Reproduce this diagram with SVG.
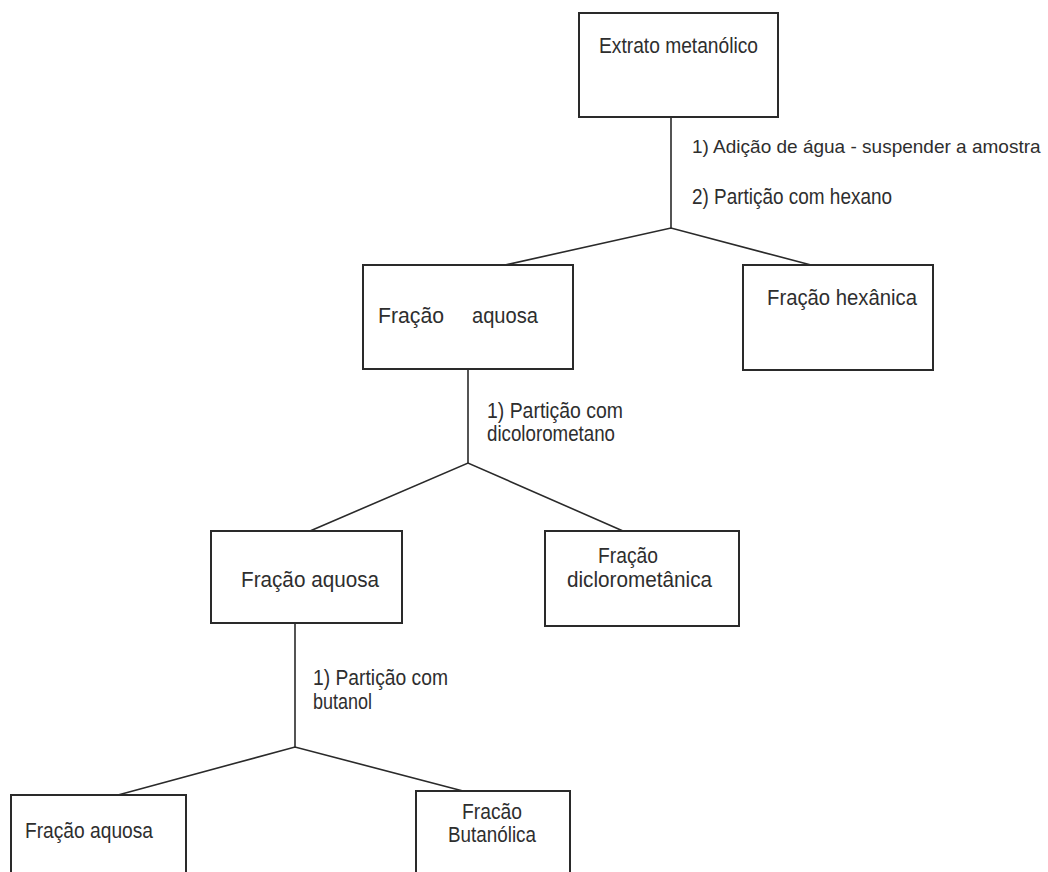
<svg xmlns="http://www.w3.org/2000/svg" width="1048" height="872" viewBox="0 0 1048 872">
  <style>
    .box { fill: #ffffff; stroke: #2a2a2a; stroke-width: 2; }
    .link { fill: none; stroke: #2a2a2a; stroke-width: 1.6; }
    text { font-family: "Liberation Sans", Arial, sans-serif; font-size: 22px; fill: #2e2e2e; }
    .long { font-size: 19px; }
  </style>
  <rect width="1048" height="872" fill="#ffffff"/>

  <!-- connectors: stem under each parent, then a fork to the two children -->
  <g id="connectors">
    <polyline class="link" points="671,117 671,228"/>
    <polyline class="link" points="505,265 671,228 811,265"/>
    <polyline class="link" points="468,369 468,463"/>
    <polyline class="link" points="310,531 468,463 623,531"/>
    <polyline class="link" points="295,623 295,747"/>
    <polyline class="link" points="118,795 295,747 463,791"/>
  </g>

  <!-- step labels beside the stems -->
  <g id="step-labels">
    <text class="long" x="692" y="153">1) Adição de água - suspender a amostra</text>
    <text x="692" y="204" textLength="200" lengthAdjust="spacingAndGlyphs">2) Partição com hexano</text>
    <text x="487" y="418" textLength="136" lengthAdjust="spacingAndGlyphs">1) Partição com</text>
    <text x="487" y="441" textLength="128" lengthAdjust="spacingAndGlyphs">dicolorometano</text>
    <text x="313" y="685" textLength="135" lengthAdjust="spacingAndGlyphs">1) Partição com</text>
    <text x="313" y="709" textLength="59" lengthAdjust="spacingAndGlyphs">butanol</text>
  </g>

  <g id="extrato-metanolico">
    <rect class="box" x="579" y="13" width="199" height="104"/>
    <text x="599" y="53" textLength="159" lengthAdjust="spacingAndGlyphs">Extrato metanólico</text>
  </g>

  <g id="fracao-aquosa-1">
    <rect class="box" x="363" y="265" width="210" height="104"/>
    <text y="323"><tspan x="378" textLength="66" lengthAdjust="spacingAndGlyphs">Fração</tspan><tspan x="472" textLength="66" lengthAdjust="spacingAndGlyphs">aquosa</tspan></text>
  </g>

  <g id="fracao-hexanica">
    <rect class="box" x="743" y="265" width="190" height="105"/>
    <text x="767" y="305" textLength="150" lengthAdjust="spacingAndGlyphs">Fração hexânica</text>
  </g>

  <g id="fracao-aquosa-2">
    <rect class="box" x="211" y="531" width="191" height="92"/>
    <text x="241" y="587" textLength="138" lengthAdjust="spacingAndGlyphs">Fração aquosa</text>
  </g>

  <g id="fracao-diclorometanica">
    <rect class="box" x="545" y="531" width="194" height="95"/>
    <text x="598" y="563" textLength="60" lengthAdjust="spacingAndGlyphs">Fração</text>
    <text x="567" y="587" textLength="145" lengthAdjust="spacingAndGlyphs">diclorometânica</text>
  </g>

  <g id="fracao-aquosa-3">
    <rect class="box" x="11" y="795" width="175" height="90"/>
    <text x="25" y="838" textLength="128" lengthAdjust="spacingAndGlyphs">Fração aquosa</text>
  </g>

  <g id="fracao-butanolica">
    <rect class="box" x="416" y="791" width="154" height="94"/>
    <text x="462" y="819" textLength="60" lengthAdjust="spacingAndGlyphs">Fracão</text>
    <text x="448" y="842" textLength="88" lengthAdjust="spacingAndGlyphs">Butanólica</text>
  </g>
</svg>
